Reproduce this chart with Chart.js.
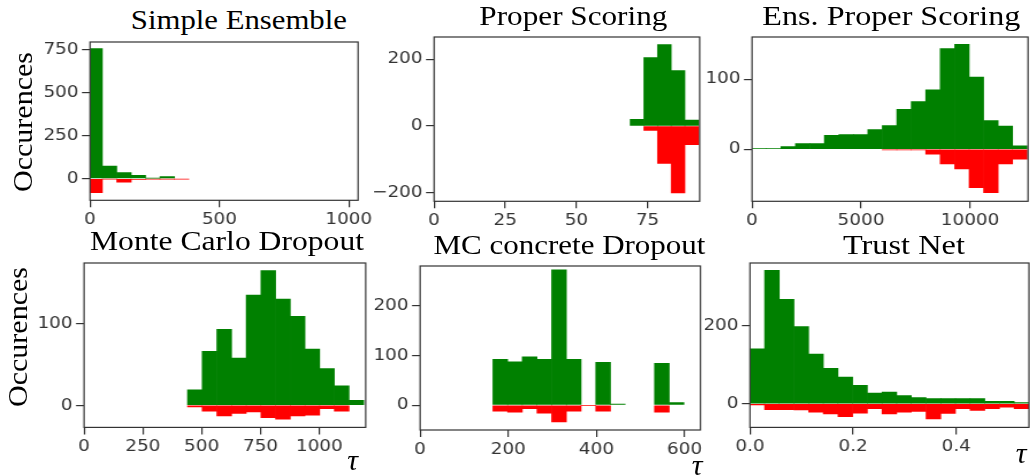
<!DOCTYPE html>
<html>
<head>
<meta charset="utf-8">
<script src="https://cdn.jsdelivr.net/npm/chart.js@4.4.1/dist/chart.umd.min.js"></script>
<style>
html, body { margin: 0; padding: 0; background: #fff; }
body { width: 1030px; height: 476px; position: relative; overflow: hidden; }
canvas { position: absolute; }
.lbl { position: absolute; white-space: nowrap; line-height: 1; font-family: 'Liberation Serif', serif; color: #000; }
</style>
</head>
<body>
<canvas id="c1"></canvas>
<canvas id="c2"></canvas>
<canvas id="c3"></canvas>
<canvas id="c4"></canvas>
<canvas id="c5"></canvas>
<canvas id="c6"></canvas>
<script>
// bin centres, counts of correct (green, up) and wrong (red, down) per bin

// Simple Ensemble
var seBins = [19.85, 75.55, 131.25, 186.95, 242.65, 298.35, 354.05];
var seCorrect = [756, 73, 35, 19, 2, 12, 0];
var seWrong = [-81, -2, -20, -4, -2, -2, -2];
var seXTicks = [0, 500, 1000];
var seYTicks = [0, 250, 500, 750];

// Proper Scoring
var psBins = [71.3, 76.1, 80.9, 85.7, 90.5];
var psCorrect = [20, 205, 244, 166, 18];
var psWrong = [0, -13, -112, -201, -56];
var psXTicks = [0, 25, 50, 75];
var psYTicks = [-200, 0, 200];

// Ens. Proper Scoring
var epsBins = [332, 996, 1660, 2324, 2988, 3652, 4316, 4980, 5644, 6308, 6972, 7636, 8300, 8964, 9628, 10292, 10956, 11620, 12284];
var epsCorrect = [1, 1, 4, 8, 8, 20, 21, 21, 28, 34, 57, 68, 85, 144, 150, 103, 41, 33, 5];
var epsWrong = [0, 0, 0, 0, 0, 0, 0, 0, 0, -1, -1, -1, -7, -21, -28, -55, -62, -21, -14];
var epsXTicks = [0, 5000, 10000];
var epsYTicks = [0, 100];

// Monte Carlo Dropout
var mcdBins = [470.9, 533.3, 595.7, 658.1, 720.5, 782.9, 845.3, 907.7, 970.1, 1032.5, 1094.9, 1157.3];
var mcdCorrect = [19, 66, 93, 58, 135, 165, 130, 109, 69, 45, 24, 6];
var mcdWrong = [-2, -7, -13, -10, -8, -15, -17, -13, -12, -4, -7, 0];
var mcdXTicks = [0, 250, 500, 750, 1000];
var mcdYTicks = [0, 100];

// MC concrete Dropout
var mccBins = [181.9, 215.2, 248.5, 281.9, 315.2, 348.5, 381.9, 415.2, 448.5, 481.9, 515.2, 548.5, 581.9];
var mccCorrect = [92, 87, 97, 92, 272, 92, 0, 86, 2, 0, 0, 84, 5];
var mccWrong = [-12, -14, -7, -16, -34, -12, -1, -12, 0, 0, 0, -14, 0];
var mccXTicks = [0, 200, 400, 600];
var mccYTicks = [0, 100, 200];

// Trust Net
var tnBins = [0.0142, 0.0427, 0.0712, 0.0996, 0.1281, 0.1565, 0.1850, 0.2135, 0.2419, 0.2704, 0.2988, 0.3273, 0.3558, 0.3842, 0.4127, 0.4411, 0.4696, 0.4981, 0.5265];
var tnCorrect = [141, 342, 268, 198, 127, 91, 68, 47, 27, 30, 21, 16, 13, 13, 13, 13, 6, 6, 3];
var tnWrong = [-3, -15, -15, -16, -22, -26, -33, -24, -13, -26, -22, -20, -39, -25, -13, -17, -13, -9, -13];
var tnXTicks = [0, 0.2, 0.4];
var tnYTicks = [0, 200];

var SX = 1.15;   // the figure is a bit wider than tall, stretch canvases horizontally
var ML = 60, MR = 24, MT = 6, MB = 32;
var tickFont = { family: 'DejaVu Sans', size: 16 };

function intLabel(v) { return String(v).replace('-', '\u2212'); }
function oneDec(v) { return Number(v).toFixed(1); }

var framePlugin = {
  id: 'frame',
  afterDraw: function(chart) {
    var a = chart.chartArea, ctx = chart.ctx;
    ctx.save();
    ctx.strokeStyle = '#333';
    ctx.lineWidth = 1.2;
    ctx.strokeRect(a.left, a.top, a.right - a.left, a.bottom - a.top);
    ctx.restore();
  }
};

function axis(min, max, ticks, fmt) {
  return {
    type: 'linear',
    min: min,
    max: max,
    offset: false,
    border: { display: false },
    grid: { drawOnChartArea: false, drawTicks: true, tickLength: 7, color: '#333', lineWidth: 1.2, offset: false },
    ticks: { color: '#333', font: tickFont, padding: 3, autoSkip: false, maxRotation: 0, minRotation: 0, callback: fmt },
    afterBuildTicks: function(s) { s.ticks = ticks.map(function(v) { return { value: v }; }); }
  };
}

function makePanel(id, box, xr, yr, bins, correct, wrong, xTicks, yTicks, xFmt) {
  var L = box[0], T = box[1], R = box[2], B = box[3];
  var cv = document.getElementById(id);
  var w0 = Math.round((R - L + ML + MR) / SX);
  var h0 = Math.round(B - T + MT + MB);
  cv.width = w0;
  cv.height = h0;
  cv.style.width = (w0 * SX) + 'px';
  cv.style.height = h0 + 'px';
  cv.style.left = (L - ML) + 'px';
  cv.style.top = (T - MT) + 'px';
  var yW = ML / SX;
  var padR = w0 - yW - (R - L) / SX;
  var xH = h0 - MT - (B - T);

  var xAxis = axis(xr[0], xr[1], xTicks, xFmt);
  xAxis.afterFit = function(s) { s.height = xH; s.paddingLeft = 0; s.paddingRight = 0; };
  var yAxis = axis(yr[0], yr[1], yTicks, intLabel);
  yAxis.afterFit = function(s) { s.width = yW; s.paddingTop = 0; s.paddingBottom = 0; };

  new Chart(cv.getContext('2d'), {
    type: 'bar',
    data: {
      datasets: [{
        data: bins.map(function(x, i) { return { x: x, y: correct[i] || null }; }),
        backgroundColor: '#008000',
        borderWidth: 0,
        grouped: false,
        barPercentage: 1,
        categoryPercentage: 1
      }, {
        data: bins.map(function(x, i) { return { x: x, y: wrong[i] || null }; }),
        backgroundColor: '#ff0000',
        borderWidth: 0,
        grouped: false,
        barPercentage: 1,
        categoryPercentage: 1
      }]
    },
    options: {
      responsive: false,
      animation: false,
      devicePixelRatio: 1,
      layout: { padding: { top: MT, right: padR, left: 0, bottom: 0 } },
      plugins: { legend: { display: false }, tooltip: { enabled: false }, title: { display: false } },
      scales: { x: xAxis, y: yAxis }
    },
    plugins: [framePlugin]
  });
}

makePanel('c1', [90, 41.7, 358, 200], [0, 1036], [-126, 794], seBins, seCorrect, seWrong, seXTicks, seYTicks, intLabel);
makePanel('c2', [434, 36.7, 699.3, 201], [0, 93.3], [-226, 267], psBins, psCorrect, psWrong, psXTicks, psYTicks, intLabel);
makePanel('c3', [751.7, 36.7, 1027.7, 201], [0, 12661], [-74.3, 160.4], epsBins, epsCorrect, epsWrong, epsXTicks, epsYTicks, intLabel);
makePanel('c4', [84.3, 263.3, 365.7, 427.7], [0, 1197], [-27, 174.3], mcdBins, mcdCorrect, mcdWrong, mcdXTicks, mcdYTicks, intLabel);
makePanel('c5', [420, 266, 700, 430], [0, 636], [-50, 279.6], mccBins, mccCorrect, mccWrong, mccXTicks, mccYTicks, intLabel);
makePanel('c6', [750, 263.3, 1029.3, 427.7], [0, 0.541], [-60.8, 361], tnBins, tnCorrect, tnWrong, tnXTicks, tnYTicks, oneDec);

// titles, axis labels
var texts = [
  { text: 'Simple Ensemble', cx: 239, base: 30, w: 216, size: 27 },
  { text: 'Proper Scoring', cx: 573, base: 26, w: 188, size: 27 },
  { text: 'Ens. Proper Scoring', cx: 891, base: 25.5, w: 258, size: 27 },
  { text: 'Monte Carlo Dropout', cx: 227, base: 251, w: 274, size: 27 },
  { text: 'MC concrete Dropout', cx: 569, base: 255, w: 272, size: 27 },
  { text: 'Trust Net', cx: 904, base: 255, w: 122, size: 27 },
  { text: 'Occurences', cx: 23.3, cy: 121.7, w: 140, size: 28, rot: true },
  { text: 'Occurences', cx: 18.3, cy: 336.7, w: 140, size: 28, rot: true },
  { text: '\u03c4', cx: 352.5, base: 470, size: 30, italic: true },
  { text: '\u03c4', cx: 697, base: 475, size: 30, italic: true },
  { text: '\u03c4', cx: 1021, base: 463.3, size: 30, italic: true }
];

texts.forEach(function(t) {
  var d = document.createElement('div');
  d.className = 'lbl';
  d.textContent = t.text;
  d.style.fontSize = t.size + 'px';
  if (t.italic) d.style.fontStyle = 'italic';
  document.body.appendChild(d);
  var nat = d.getBoundingClientRect().width;
  var k = t.w ? t.w / nat : 1;
  d.style.left = (t.cx - nat / 2) + 'px';
  if (t.rot) {
    d.style.top = (t.cy - t.size / 2) + 'px';
    d.style.transform = 'rotate(-90deg) scaleX(' + k + ')';
  } else {
    d.style.top = (t.base - 0.8375 * t.size) + 'px';
    d.style.transform = 'scaleX(' + k + ')';
  }
});
</script>
</body>
</html>
